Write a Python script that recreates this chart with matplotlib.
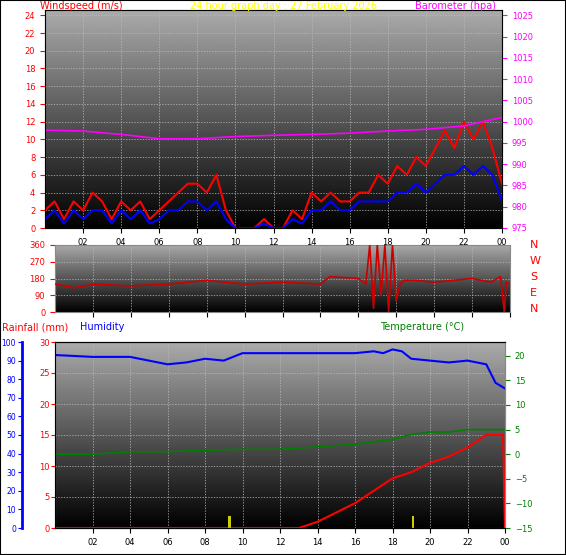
import numpy as np
import matplotlib
matplotlib.use("Agg")
import matplotlib.pyplot as plt

# ---- data ----
hours_w = [0,0.5,1,1.5,2,2.5,3,3.5,4,4.5,5,5.5,6,6.5,7,7.5,8,8.5,9,9.5,10,10.5,11,11.5,12,12.5,13,13.5,14,14.5,15,15.5,16,16.5,17,17.5,18,18.5,19,19.5,20,20.5,21,21.5,22,22.5,23,23.5,24]
gust = [2,3,1,3,2,4,3,1,3,2,3,1,2,3,4,5,5,4,6,2,0,0,0,1,0,0,2,1,4,3,4,3,3,4,4,6,5,7,6,8,7,9,11,9,12,10,12,9,5]
avg  = [1,2,0.5,2,1,2,2,0.5,2,1,2,0.5,1,2,2,3,3,2,3,1,0,0,0,0.5,0,0,1,0.5,2,2,3,2,2,3,3,3,3,4,4,5,4,5,6,6,7,6,7,6,3]
baro_h = [0,2,4,6,8,10,12,14,16,18,19,20,22,24]
baro = [998,997.8,997,996,996,996.5,996.8,997,997.3,997.8,998,998.2,999,1001]
dir_h = [0,1,2,4,6,8,10,12,14,14.5,16,16.4,16.6,16.8,17,17.2,17.4,17.6,17.8,18,18.2,18.4,19,20,21,22,23,23.5,23.7,23.8,24]
dirs = [150,130,150,140,150,170,150,160,150,190,180,150,360,20,360,90,360,0,360,60,150,170,170,160,170,180,160,190,0,160,150]
hum_h = [0,2,4,5,6,7,8,9,10,12,14,16,17,17.5,18,18.5,19,20,21,22,23,23.5,24]
hum = [93,92,92,90,88,89,91,90,94,94,94,94,95,94,96,95,91,90,89,90,88,78,75]
temp_h = [0,2,4,6,8,10,12,14,16,18,19,20,21,22,23,24]
temp = [0,0,0.5,0.5,0.8,1,1,1.5,2,3,4,4.5,4.5,5,5,5]
rain_h = [0,13,14,15,16,17,18,19,20,21,22,23,23.9,24]
rain = [0,0,1,2.5,4,6,8,9,10.5,11.5,13,15,15,0]
rr_h = [9.3,19.1]
rr = [2,2]

W, H = 566, 555
fig = plt.figure(figsize=(W/100, H/100), dpi=100)
fig.patch.set_facecolor("white")
grad = np.linspace(0.67, 0.0, 256).reshape(-1, 1)
ticks = [2,4,6,8,10,12,14,16,18,20,22,24]
tlab = ["02","04","06","08","10","12","14","16","18","20","22","00"]
FS = 6

def prep(ax):
    ax.imshow(grad, aspect="auto", cmap="gray", vmin=0, vmax=1,
              extent=[0, 1, 0, 1], transform=ax.transAxes, zorder=0)
    ax.set_xlim(0, 24)
    ax.set_xticks(ticks)
    ax.grid(True, color="#bbbbbb", lw=0.5, ls=(0, (2, 2)))
    for s in ax.spines.values():
        s.set_color("#888888")

def ax_at(x0, y0, x1, y1):
    return fig.add_axes([x0/W, 1-y1/H, (x1-x0)/W, (y1-y0)/H])

# ---- top panel ----
a1 = ax_at(45, 10, 502, 228)
prep(a1)
a1.plot(hours_w, gust, color="red", lw=1.5, zorder=3)
a1.plot(hours_w, avg, color="blue", lw=1.5, zorder=4)
a1.set_ylim(0, 24.6)
a1.set_yticks(range(0, 25, 2))
a1.set_xticklabels(tlab)
a1.tick_params(axis="y", colors="red", labelsize=FS)
a1.tick_params(axis="x", labelsize=FS, colors="black")
a1b = a1.twinx()
a1b.plot(baro_h, baro, color="magenta", lw=1.2)
a1b.set_ylim(975, 975 + 24.6*50/24)
a1b.set_yticks(range(975, 1026, 5))
a1b.tick_params(axis="y", colors="magenta", labelsize=FS)
fig.text(40/W, 1-6/H, "Windspeed (m/s)", color="red", fontsize=7, va="center")
fig.text(0.5, 1-6/H, "24 hour graph day : 27 February 2026", color="yellow", fontsize=7, va="center", ha="center")
fig.text(415/W, 1-6/H, "Barometer (hpa)", color="magenta", fontsize=7, va="center")

# ---- middle panel ----
a2 = ax_at(55, 245, 510, 312)
prep(a2)
a2.plot(dir_h, dirs, color="#cc0000", lw=1.2, zorder=3)
a2.set_ylim(0, 360)
a2.set_yticks([0, 90, 180, 270, 360])
a2.set_xticklabels([])
a2.tick_params(axis="y", colors="red", labelsize=FS)
for i, c in enumerate("NWSEN"):
    fig.text(530/W, 1-(245+i*16)/H, c, color="red", fontsize=8, va="center")

# ---- bottom panel ----
a3 = ax_at(55, 342, 505, 528)
prep(a3)
a3.plot(rain_h, rain, color="red", lw=1.5, zorder=3)
a3.bar(rr_h, rr, width=0.12, color="#cccc00", zorder=3)
a3.set_ylim(0, 30)
a3.set_yticks(range(0, 31, 5))
a3.set_xticks(ticks)
a3.set_xticklabels(tlab)
a3.tick_params(axis="y", colors="red", labelsize=FS, length=3, pad=1)
a3.tick_params(axis="x", labelsize=FS)
a3h = a3.twinx()
a3h.spines["right"].set_visible(False)
a3h.spines["left"].set_visible(True)
a3h.spines["left"].set_position(("outward", 24))
a3h.spines["left"].set_color("blue")
a3h.spines["left"].set_linewidth(2)
a3h.yaxis.set_ticks_position("left")
a3h.yaxis.set_label_position("left")
a3h.plot(hum_h, hum, color="blue", lw=1.5)
a3h.set_ylim(0, 100)
a3h.set_yticks(range(0, 101, 10))
a3h.tick_params(axis="y", colors="blue", labelsize=5.5, length=3, pad=1)
a3t = a3.twinx()
a3t.plot(temp_h, temp, color="green", lw=1.2)
a3t.set_ylim(-15, 22.8)
a3t.set_yticks(range(-15, 21, 5))
a3t.tick_params(axis="y", colors="green", labelsize=FS)
a3t.spines["right"].set_color("#888888")
fig.text(2/W, 1-327/H, "Rainfall (mm)", color="red", fontsize=7, va="center")
fig.text(80/W, 1-327/H, "Humidity", color="blue", fontsize=7, va="center")
fig.text(380/W, 1-327/H, "Temperature (°C)", color="green", fontsize=7, va="center")

fig.add_artist(plt.Rectangle((0, 0), 1, 1, transform=fig.transFigure, fill=False, ec="black", lw=1.5))
fig.savefig("out.png", dpi=100)
